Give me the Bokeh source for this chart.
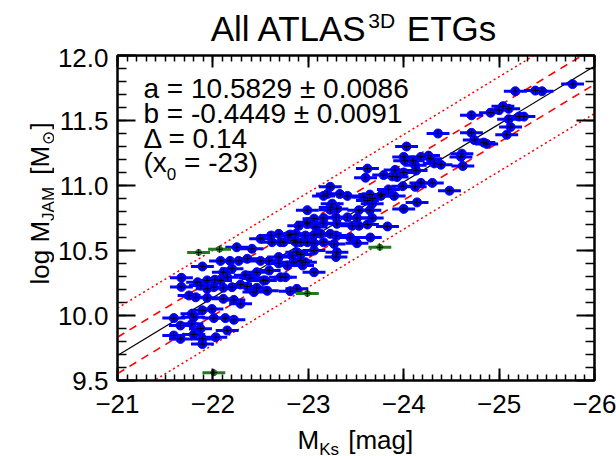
import numpy as np
from bokeh.plotting import figure
from bokeh.layouts import column, row
from bokeh.models import Range1d, LinearAxis, FixedTicker, Label, ColumnDataSource, NumeralTickFormatter
from bokeh.embed import file_html
from bokeh.resources import INLINE

# ---------------- data ----------------
mk_blue = [
    -25.77, -25.17, -25.38, -25.45, -25.04, -24.91, -25.00, -25.10, -24.71, -25.10,
    -25.21, -25.26, -25.12, -25.08, -24.71, -24.36, -24.74, -24.84, -24.87, -24.03,
    -24.61, -24.60, -24.62, -24.00, -24.01, -24.18, -24.26, -24.28, -24.32, -24.10,
    -24.12, -24.39, -24.13, -23.62, -23.60, -23.79, -23.88, -23.91, -23.93, -24.00,
    -23.99, -24.12, -24.18, -24.30, -24.48, -24.14, -24.00, -23.84, -23.23, -23.20,
    -23.16, -23.33, -23.41, -23.58, -23.645, -23.67, -23.76, -23.77, -23.90, -23.25,
    -23.23, -23.62, -23.67, -23.645, -23.53, -22.99, -23.30, -23.06, -23.16, -23.29,
    -23.41, -23.51, -23.67,
    -23.23, -23.83, -23.16, -23.30, -23.46, -23.53, -23.62, -22.99, -23.08, -22.90,
    -22.87, -22.97, -23.06, -23.13, -23.23, -23.29, -22.79, -22.74, -22.87, -23.06,
    -23.16, -23.27, -23.44, -23.51, -23.65, -23.30, -23.29, -23.06, -22.88, -22.92,
    -22.97, -23.06, -22.78, -22.76, -22.88, -22.81,
    -22.99, -22.69, -22.61, -22.81, -22.85, -22.92, -22.99, -22.62, -22.71, -22.50,
    -22.41, -22.25, -22.08, -22.18, -22.27, -22.36, -22.50, -22.59, -22.69, -22.83,
    -22.92, -22.69, -22.85, -22.94, -22.59, -22.46, -21.89, -22.20, -22.11, -22.34,
    -22.39, -22.53, -22.71, -21.67, -21.67, -21.84, -21.87, -21.94, -22.02, -22.08,
    -22.15, -21.94, -22.01, -22.11, -22.20, -22.29, -22.36, -22.46, -22.55, -22.57,
    -22.43, -21.75, -21.82, -21.94, -22.11, -22.22, -22.29, -21.99, -21.89, -21.78,
    -21.59, -21.80, -22.01, -22.13, -22.22, -21.66, -21.78, -21.87, -22.15, -21.59,
    -21.66, -21.80, -21.89, -21.89, -22.03,
]
logm_blue = [
    11.78, 11.725, 11.73, 11.725, 11.61, 11.56, 11.58, 11.59, 11.54, 11.51,
    11.53, 11.53, 11.45, 11.39, 11.405, 11.40, 11.35, 11.33, 11.32, 11.30,
    11.245, 11.22, 11.15, 11.22, 11.19, 11.22, 11.23, 11.205, 11.17, 11.19,
    11.155, 11.16, 11.115, 11.13, 11.06, 11.08, 11.07, 11.12, 11.065, 11.10,
    10.995, 10.99, 11.02, 11.02, 10.96, 10.87, 10.82, 10.97, 10.99, 10.935,
    10.92, 10.935, 10.92, 10.91, 10.93, 10.90, 10.92, 10.93, 10.92, 10.86,
    10.83, 10.885, 10.86, 10.81, 10.81, 10.81, 10.82, 10.745, 10.75, 10.755,
    10.755, 10.75, 10.75,
    10.813, 10.685, 10.71, 10.705, 10.69, 10.69, 10.70, 10.705, 10.68, 10.69,
    10.628, 10.615, 10.62, 10.628, 10.628, 10.615, 10.615, 10.564, 10.564, 10.556,
    10.564, 10.55, 10.60, 10.556, 10.60, 10.487, 10.45, 10.50, 10.487, 10.42,
    10.41, 10.333, 10.385, 10.295, 10.205, 10.187,
    10.718, 10.628, 10.615, 10.623, 10.577, 10.564, 10.564, 10.564, 10.564, 10.59,
    10.513, 10.525, 10.42, 10.42, 10.42, 10.436, 10.42, 10.42, 10.45, 10.46,
    10.47, 10.40, 10.41, 10.385, 10.346, 10.333, 10.377, 10.36, 10.333, 10.31,
    10.29, 10.27, 10.295, 10.29, 10.22, 10.256, 10.23, 10.27, 10.275, 10.27,
    10.295, 10.205, 10.218, 10.213, 10.218, 10.238, 10.223, 10.213, 10.27, 10.19,
    10.18, 10.154, 10.14, 10.136, 10.128, 10.12, 10.09, 10.05, 10.04, 10.013,
    9.98, 9.987, 9.98, 9.98, 9.967, 9.923, 9.936, 9.898, 9.885, 9.846,
    9.82, 9.854, 9.82, 9.78, 9.833,
]
mk_green = [-21.85, -22.07, -22.01, -22.99, -23.75]
logm_green = [10.485, 10.51, 9.56, 10.17, 10.525]
mk_err = 0.12

a_fit, a_err = 10.5829, 0.0086
b_fit, b_err = -0.4449, 0.0091
delta = 0.14
x0 = -23.0

x_ticks = [-21, -22, -23, -24, -25, -26]
y_ticks = [9.5, 10.0, 10.5, 11.0, 11.5, 12.0]
x_lim = (-21, -26)
y_lim = (9.5, 12.0)

title_main = "All ATLAS"
title_sup = "3D"
title_end = "ETGs"

FONT = "Liberation Sans"

# page layout (pixels, page top-left origin)
TITLE_H = 48
YLAB_W = 54
MAIN_W = 616 - YLAB_W
MB_TOP, MB_LEFT, MB_BOTTOM, MB_RIGHT = 7, 63, 48, 22
FRAME_H = 325
MAIN_H = MB_TOP + FRAME_H + MB_BOTTOM
XLAB_H = 456 - TITLE_H - MAIN_H

# ---------------- main figure ----------------
p = figure(width=MAIN_W, height=MAIN_H, x_range=Range1d(*x_lim), y_range=Range1d(*y_lim),
           output_backend="svg", toolbar_location=None,
           min_border_left=MB_LEFT, min_border_right=MB_RIGHT,
           min_border_top=MB_TOP, min_border_bottom=MB_BOTTOM)
p.xgrid.visible = False
p.ygrid.visible = False
p.outline_line_color = "black"
p.outline_line_width = 2
p.background_fill_color = "white"
p.border_fill_color = "white"

x_minor = [round(v, 2) for v in np.arange(-21.0, -26.001, -0.1)]
y_minor = [round(v, 2) for v in np.arange(9.5, 12.001, 0.1)]


def style_axis(ax, ticks, minor, tin, tmin, labels, standoff=0):
    ax.ticker = FixedTicker(ticks=ticks, minor_ticks=minor)
    ax.axis_label = None
    ax.axis_label_standoff = 0
    ax.major_tick_in = tin
    ax.major_tick_out = 0
    ax.minor_tick_in = tmin
    ax.minor_tick_out = 0
    ax.axis_line_color = "black"
    ax.axis_line_width = 2
    ax.major_tick_line_color = "black"
    ax.major_tick_line_width = 2
    ax.minor_tick_line_color = "black"
    ax.minor_tick_line_width = 1.5
    if labels:
        ax.major_label_text_font = FONT
        ax.major_label_text_font_size = "26px"
        ax.major_label_text_color = "black"
        ax.major_label_standoff = standoff
    else:
        ax.major_label_text_font_size = "0px"
        ax.major_label_standoff = 0


style_axis(p.xaxis[0], x_ticks, x_minor, 12, 6, True, 14)
style_axis(p.yaxis[0], y_ticks, y_minor, 18, 9, True, 9)
p.yaxis[0].formatter = NumeralTickFormatter(format="0.0")

ax_top = LinearAxis()
style_axis(ax_top, x_ticks, x_minor, 12, 6, False)
p.add_layout(ax_top, "above")
ax_right = LinearAxis()
style_axis(ax_right, y_ticks, y_minor, 18, 9, False)
p.add_layout(ax_right, "right")

# fit lines
xl = np.array(x_lim, dtype=float)
yl = a_fit + b_fit * (xl - x0)
p.line(xl, yl, line_color="black", line_width=1.2)
p.line(xl, yl + delta, line_color="red", line_width=1.6, line_dash="8 6")
p.line(xl, yl - delta, line_color="red", line_width=1.6, line_dash="8 6")
p.line(xl, yl + 2.6 * delta, line_color="red", line_width=1.5, line_dash="2 3")
p.line(xl, yl - 2.6 * delta, line_color="red", line_width=1.5, line_dash="2 3")

# points
mb = np.array(mk_blue)
lb = np.array(logm_blue)
src_b = ColumnDataSource(dict(x=mb, y=lb, x0=mb - mk_err, x1=mb + mk_err))
p.segment(x0="x0", y0="y", x1="x1", y1="y", source=src_b, line_color="blue", line_width=3)
p.scatter("x", "y", source=src_b, size=9, fill_color="blue", line_color="blue")
p.scatter("x", "y", source=src_b, marker="cross", size=7, line_color="black", line_width=1)

mg = np.array(mk_green)
lg = np.array(logm_green)
src_g = ColumnDataSource(dict(x=mg, y=lg, x0=mg - mk_err, x1=mg + mk_err))
p.segment(x0="x0", y0="y", x1="x1", y1="y", source=src_g, line_color="#1e7b1e", line_width=3)
p.scatter("x", "y", source=src_g, size=6, fill_color="#1e7b1e", line_color="#1e7b1e")
p.scatter("x", "y", source=src_g, marker="cross", size=7, line_color="black", line_width=1)

# ---------------- text helpers ----------------
WID = {" ": 278, "(": 333, ")": 333, "[": 278, "]": 278, "-": 333, "=": 584, ".": 278,
       "±": 584, "a": 556, "b": 556, "g": 556, "l": 222, "m": 833, "o": 556, "s": 500,
       "x": 500, "A": 667, "D": 722, "E": 667, "G": 778, "J": 500, "K": 667, "L": 556,
       "M": 833, "S": 667, "T": 611, "Δ": 612, "⊙": 838}
MID = 0.35  # offset (in em) from alphabetic baseline to the label's middle anchor


def tw(s, size):
    return sum(WID.get(c, 556) for c in s) / 1000.0 * size


def lab(fig, org, text, px, py, size, angle=0.0):
    """Text whose baseline starts at page position (px, py).
    org = (page x of frame left, page y of frame bottom)."""
    if angle == 0.0:
        ax_, ay_ = px, py - MID * size
    else:
        ax_, ay_ = px - MID * size, py
    fig.add_layout(Label(x=ax_ - org[0], y=org[1] - ay_, x_units="screen", y_units="screen",
                         text=text, text_font=FONT, text_font_size=f"{size}px",
                         text_color="black", text_align="left", text_baseline="middle",
                         angle=angle))


def strip(w, h):
    f = figure(width=w, height=h, x_range=Range1d(0, w), y_range=Range1d(0, h),
               x_axis_type=None, y_axis_type=None, output_backend="svg",
               toolbar_location=None, min_border=0)
    f.outline_line_color = None
    f.xgrid.visible = False
    f.ygrid.visible = False
    f.background_fill_color = "white"
    f.border_fill_color = "white"
    return f


MAIN_ORG = (YLAB_W + MB_LEFT, TITLE_H + MB_TOP + FRAME_H)

# fit annotation (inside main frame)
AS = 28
lab(p, MAIN_ORG, f"a = {a_fit:.4f} ± {a_err:.4f}", 143, 98, AS)
lab(p, MAIN_ORG, f"b = {b_fit:.4f} ± {b_err:.4f}", 143, 123, AS)
lab(p, MAIN_ORG, f"Δ = {delta:.2f}", 143, 148, AS)
lab(p, MAIN_ORG, "(x", 143, 172, AS)
sx = 143 + tw("(x", AS)
lab(p, MAIN_ORG, "0", sx, 179, 17)
sx += tw("0", 17) + tw(" ", AS)
lab(p, MAIN_ORG, f"= {x0:.0f})", sx, 172, AS)

# title strip
t = strip(616, TITLE_H)
T_ORG = (0, TITLE_H)
TS, SS = 35, 21
gap = tw(" ", TS)
tot = tw(title_main, TS) + tw(title_sup, SS) + gap + tw(title_end, TS)
tx = 353 - tot / 2
lab(t, T_ORG, title_main, tx, 40, TS)
tx += tw(title_main, TS) - 2
lab(t, T_ORG, title_sup, tx, 27, SS)
tx += tw(title_sup, SS) + gap + 2
lab(t, T_ORG, title_end, tx, 40, TS)

# y label strip (rotated, reading upwards)
yf = strip(YLAB_W, MAIN_H)
Y_ORG = (0, TITLE_H + MAIN_H)
LS, LSS = 26, 17
ang = np.pi / 2
bx, sbx = 49, 54
yy = 332
lab(yf, Y_ORG, "log M", bx, yy, LS, ang)
yy -= tw("log M", LS)
lab(yf, Y_ORG, "JAM", sbx, yy, LSS, ang)
yy -= tw("JAM", LSS) + tw(" ", LS) + 5
lab(yf, Y_ORG, "[M", bx, yy, LS, ang)
yy -= tw("[M", LS) + 1
lab(yf, Y_ORG, "⊙", sbx, yy, LSS, ang)
yy -= tw("⊙", LSS) + 1
lab(yf, Y_ORG, "]", bx, yy, LS, ang)

# x label strip
xf = strip(616, XLAB_H)
X_ORG = (0, 456)
xx = 297
lab(xf, X_ORG, "M", xx, 449, LS)
xx += tw("M", LS)
lab(xf, X_ORG, "Ks", xx, 455, LSS)
xx += tw("Ks", LSS) + tw(" ", LS) + 2
lab(xf, X_ORG, "[mag]", xx, 449, LS)

layout = column(t, row(yf, p), xf)
open("out.html", "w").write(file_html(layout, INLINE))
